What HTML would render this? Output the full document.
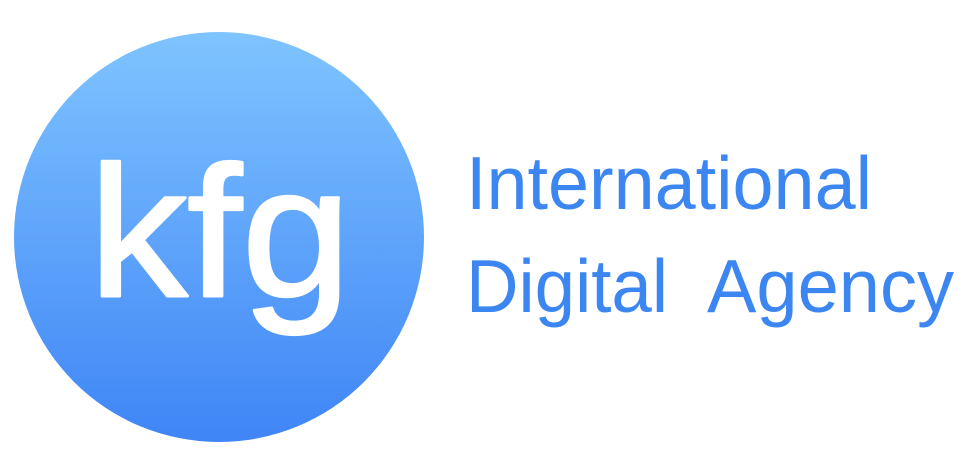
<!DOCTYPE html>
<html><head><meta charset="utf-8"><style>
html,body{margin:0;padding:0;background:#fff;width:975px;height:475px;overflow:hidden}
</style></head><body>
<svg width="975" height="475" viewBox="0 0 975 475">
<defs><linearGradient id="g" x1="0" y1="0" x2="0" y2="1">
<stop offset="0" stop-color="#7fc4ff"/><stop offset="1" stop-color="#3f85f6"/></linearGradient></defs>
<circle cx="219" cy="237" r="205" fill="url(#g)"/>
<text x="89" y="296" font-family="Liberation Sans, sans-serif" font-size="186" fill="#fff" stroke="#fff" stroke-width="3" stroke-linejoin="round" textLength="262" lengthAdjust="spacingAndGlyphs">kfg</text>
<text x="466" y="209" font-family="Liberation Sans, sans-serif" font-size="75" fill="#3b86f0" textLength="406" lengthAdjust="spacingAndGlyphs">International</text>
<text x="466" y="312" font-family="Liberation Sans, sans-serif" font-size="75" fill="#3b86f0" textLength="202" lengthAdjust="spacingAndGlyphs">Digital</text>
<text x="707" y="312" font-family="Liberation Sans, sans-serif" font-size="75" fill="#3b86f0" textLength="247" lengthAdjust="spacingAndGlyphs">Agency</text>
</svg>
</body></html>
